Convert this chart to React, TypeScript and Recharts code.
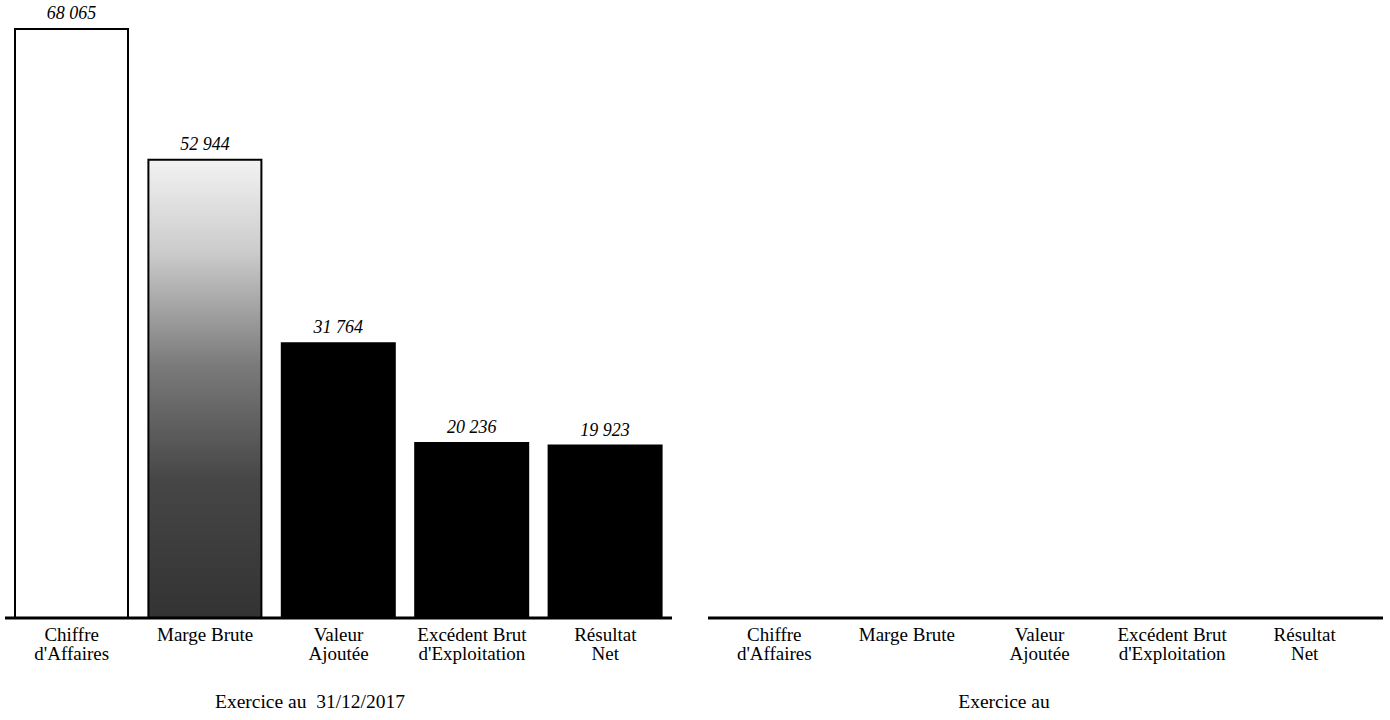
import { Bar, BarChart, Cell, LabelList, XAxis, YAxis } from 'recharts';

const categories = [
  "Chiffre\nd'Affaires",
  'Marge Brute',
  'Valeur\nAjoutée',
  "Excédent Brut\nd'Exploitation",
  'Résultat\nNet',
];
const values2017 = [68065, 52944, 31764, 20236, 19923];
const valuesNext: (number | null)[] = [null, null, null, null, null];
const titles = ['Exercice au  31/12/2017', 'Exercice au'];

const FONT = '"Liberation Serif", "DejaVu Serif", serif';
const yMax = Math.max(...values2017);

const fills = ['#ffffff', 'url(#margeGrad)', '#000000', '#000000', '#000000'];

const fmt = (v: unknown) =>
  v == null ? '' : String(v).replace(/\B(?=(\d{3})+(?!\d))/g, ' ');

function TwoLineTick(props: any) {
  const { x, y, payload } = props;
  const lines = String(payload.value).split('\n');
  return (
    <text x={x} y={y} textAnchor="middle" fontFamily={FONT} fontSize={19} fill="#000">
      {lines.map((line, i) => (
        <tspan key={i} x={x} dy={i === 0 ? 15 : 19}>
          {line}
        </tspan>
      ))}
    </text>
  );
}

function Panel({
  values,
  width,
  margin,
  padRight,
}: {
  values: (number | null)[];
  width: number;
  margin: { top: number; right: number; bottom: number; left: number };
  padRight: number;
}) {
  const data = categories.map((name, i) => ({ name, value: values[i] }));
  return (
    <BarChart width={width} height={680} data={data} margin={margin}>
      <defs>
        <linearGradient id="margeGrad" x1="0" y1="0" x2="0" y2="1">
          <stop offset="0%" stopColor="#f2f2f2" />
          <stop offset="20%" stopColor="#cccccc" />
          <stop offset="45%" stopColor="#7a7a7a" />
          <stop offset="70%" stopColor="#464646" />
          <stop offset="100%" stopColor="#333333" />
        </linearGradient>
      </defs>
      <XAxis
        dataKey="name"
        interval={0}
        tickLine={false}
        axisLine={{ stroke: '#000', strokeWidth: 3 }}
        tick={<TwoLineTick />}
        padding={{ left: 0, right: padRight }}
        height={62}
      />
      <YAxis hide domain={[0, yMax]} />
      <Bar dataKey="value" barSize={113} stroke="#000" strokeWidth={2} isAnimationActive={false}>
        {data.map((d, i) => (
          <Cell key={d.name} fill={fills[i]} />
        ))}
        <LabelList
          dataKey="value"
          position="top"
          offset={10}
          formatter={fmt}
          style={{ fontFamily: FONT, fontStyle: 'italic', fontSize: 18, fill: '#000' }}
        />
      </Bar>
    </BarChart>
  );
}

export default function App() {
  return (
    <div
      style={{
        position: 'fixed',
        left: 0,
        top: 0,
        width: 1390,
        height: 720,
        background: '#fff',
        fontFamily: FONT,
      }}
    >
      <div style={{ position: 'absolute', left: 0, top: 0 }}>
        <Panel
          values={values2017}
          width={690}
          margin={{ top: 29, right: 18, bottom: 0, left: 5 }}
          padRight={0}
        />
      </div>
      <div style={{ position: 'absolute', left: 700, top: 0 }}>
        <Panel
          values={valuesNext}
          width={690}
          margin={{ top: 29, right: 7, bottom: 0, left: 8 }}
          padRight={12}
        />
      </div>
      <div
        style={{
          position: 'absolute',
          left: 160,
          width: 300,
          top: 691,
          textAlign: 'center',
          fontSize: 19.5,
          whiteSpace: 'pre',
        }}
      >
        {titles[0]}
      </div>
      <div
        style={{
          position: 'absolute',
          left: 854,
          width: 300,
          top: 691,
          textAlign: 'center',
          fontSize: 19.5,
          whiteSpace: 'pre',
        }}
      >
        {titles[1]}
      </div>
    </div>
  );
}
